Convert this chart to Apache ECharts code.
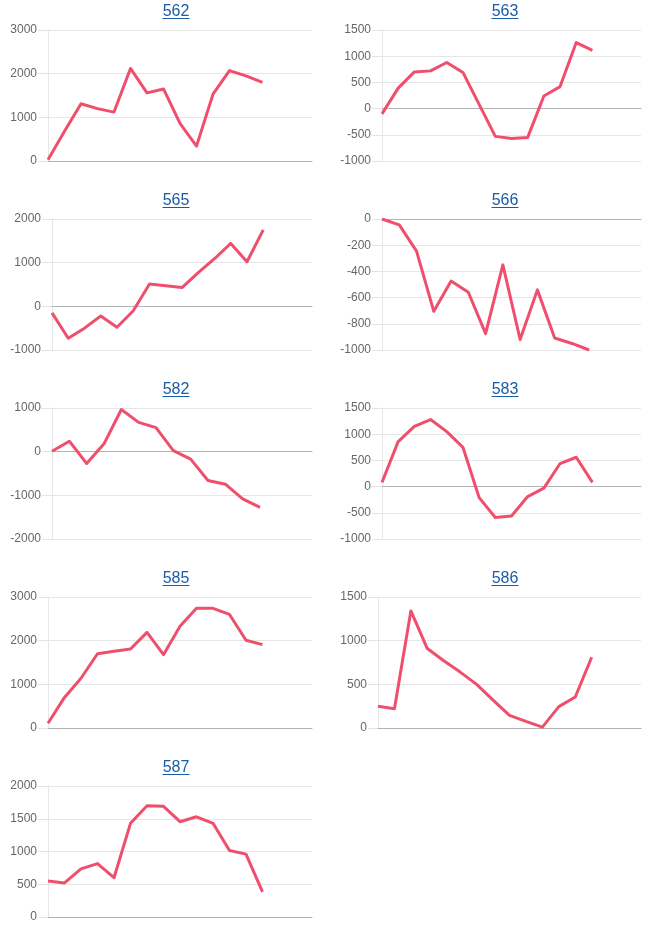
<!DOCTYPE html>
<html>
<head>
<meta charset="utf-8">
<script src="https://cdn.jsdelivr.net/npm/echarts@6/dist/echarts.min.js"></script>
<style>
  html, body { margin: 0; padding: 0; background: #fff; }
  #chart { width: 657px; height: 930px; }
</style>
</head>
<body>
<div id="chart"></div>
<script>
// ---- data ----
const periods = ['1','2','3','4','5','6','7','8','9','10','11','12','13','14','15','16','17'];
const titles = ['562','563','565','566','582','583','585','586','587'];

const s562 = [30, 680, 1310, 1200, 1120, 2120, 1560, 1650, 860, 340, 1530, 2070, 1950, 1800];
const s563 = [-100, 390, 700, 720, 880, 690, 80, -530, -570, -550, 240, 420, 1260, 1110];
const s565 = [-150, -730, -500, -220, -480, -100, 510, 470, 430, 770, 1090, 1440, 1020, 1750];
const s566 = [0, -45, -245, -705, -474, -559, -875, -350, -920, -541, -908, -950, -1000];
const s582 = [10, 240, -270, 180, 965, 670, 550, 25, -170, -660, -745, -1080, -1275];
const s583 = [80, 860, 1150, 1280, 1050, 750, -210, -590, -560, -190, -30, 440, 560, 80];
const s585 = [110, 700, 1140, 1700, 1760, 1810, 2190, 1680, 2330, 2740, 2740, 2600, 2010, 1910];
const s586 = [250, 220, 1340, 910, 770, 640, 500, 320, 145, 75, 10, 245, 355, 810];
const s587 = [550, 520, 735, 815, 600, 1430, 1700, 1690, 1455, 1530, 1430, 1015, 960, 385];

const seriesValues = [s562, s563, s565, s566, s582, s583, s585, s586, s587];

// y-axis tick settings
const yMins  = [0, -1000, -1000, -1000, -2000, -1000, 0, 0, 0];
const yMaxs  = [3000, 1500, 2000, 0, 1000, 1500, 3000, 1500, 2000];
const ySteps = [1000, 500, 1000, 200, 1000, 500, 1000, 500, 500];

// ---- layout ----
const gridLefts = [48, 382, 52, 382, 52, 382, 48, 378, 48];
const gridRightEdges = [312, 641];
const rowTops = [30, 219, 408, 597, 786];
const gridHeight = 131;
const titleCx = [176, 505];
const titleCy = [12, 201, 390, 579, 768];

const LINE_COLOR = '#ef4f6d';
const TITLE_COLOR = '#1a5ca8';
const FONT = 'Arial, "Liberation Sans", sans-serif';

const chart = echarts.init(document.getElementById('chart'), null, { renderer: 'canvas' });

const grids = [], xAxes = [], yAxes = [], series = [], graphics = [];
titles.forEach((t, i) => {
  const col = i % 2, row = Math.floor(i / 2);
  const left = gridLefts[i];
  const width = gridRightEdges[col] - left;
  grids.push({ left: left, top: rowTops[row], width: width, height: gridHeight, containLabel: false });
  const vals = seriesValues[i];
  xAxes.push({
    type: 'category', gridIndex: i, boundaryGap: false,
    data: periods.slice(0, vals.length + 3),
    axisLine: { show: true, onZero: true, lineStyle: { color: '#b3b3b3', width: 1 } },
    axisTick: { show: false }, axisLabel: { show: false }, splitLine: { show: false }
  });
  yAxes.push({
    type: 'value', gridIndex: i, min: yMins[i], max: yMaxs[i], interval: ySteps[i],
    axisLine: { show: true, lineStyle: { color: '#e6e6e6', width: 1 } },
    axisTick: { show: true, length: 10, lineStyle: { color: '#e3e3e3' } },
    axisLabel: { color: '#666', fontSize: 12, fontFamily: FONT, margin: 11,
                 formatter: v => String(v) },
    splitLine: { show: true, lineStyle: { color: '#e6e6e6', width: 1 } }
  });
  series.push({
    type: 'line', xAxisIndex: i, yAxisIndex: i, data: vals,
    showSymbol: false, symbol: 'none', smooth: false,
    lineStyle: { color: LINE_COLOR, width: 3, join: 'round' },
    itemStyle: { color: LINE_COLOR },
    animation: false
  });
  const cx = titleCx[col], cy = titleCy[row];
  graphics.push({
    type: 'text', x: cx, y: cy, silent: true,
    style: { text: t, fill: TITLE_COLOR, font: '16px ' + FONT, align: 'center', verticalAlign: 'middle' }
  });
  graphics.push({
    type: 'line', silent: true,
    shape: { x1: cx - 13.5, y1: cy + 6.5, x2: cx + 13.5, y2: cy + 6.5 },
    style: { stroke: TITLE_COLOR, lineWidth: 1 }
  });
});

chart.setOption({
  animation: false,
  backgroundColor: '#ffffff',
  grid: grids,
  xAxis: xAxes,
  yAxis: yAxes,
  series: series,
  graphic: graphics
});
</script>
</body>
</html>
